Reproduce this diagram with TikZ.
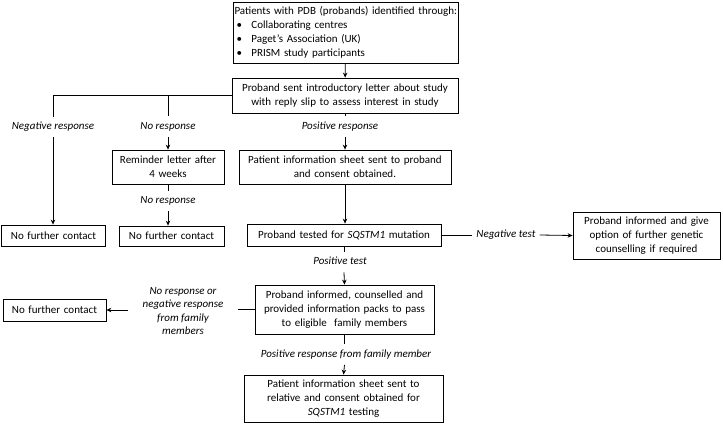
\documentclass[tikz,border=0pt]{standalone}
\usepackage{fontspec}
\setmainfont{Carlito}
\usetikzlibrary{arrows.meta}
\begin{document}
\begin{tikzpicture}[x=1pt,y=-1pt,
  every node/.style={font=\fontsize{11}{14}\selectfont},
  box/.style={draw, line width=0.8pt, align=center, inner xsep=0pt, inner ysep=1pt},
  lbl/.style={font=\fontsize{11}{13.5}\selectfont\itshape, align=center, text height=8pt, text depth=2.5pt, inner ysep=5pt, inner xsep=6pt},
  conn/.style={line width=0.8pt},
  arr/.style={line width=0.8pt, -{Stealth[length=5pt,width=4.5pt]}}]
\useasboundingbox (0,0) rectangle (723,424);

% boxes
\node[box, text width=224pt, minimum height=61pt, align=left, inner xsep=0.5pt] (a) at (345.5,32.5)
  {\hspace*{1pt}Patients with PDB (probands) identified through:\\
   \hspace*{3pt}\makebox[15pt][l]{\textbullet}Collaborating centres\\
   \hspace*{3pt}\makebox[15pt][l]{\textbullet}Paget’s Association (UK)\\
   \hspace*{3pt}\makebox[15pt][l]{\textbullet}PRISM study participants};
\node[box, text width=226pt, minimum height=35pt] (b) at (345,95.5)
  {Proband sent introductory letter about study\\ with reply slip to assess interest in study};
\node[box, text width=112pt, minimum height=34pt] (rem) at (168,167)
  {Reminder letter after\\ 4 weeks};
\node[box, text width=212pt, minimum height=34pt] (pi) at (345,167)
  {Patient information sheet sent to proband\\ and consent obtained.};
\node[box, text width=104pt, minimum height=21pt] (nfc1) at (53.5,235.5) {No further contact};
\node[box, text width=105pt, minimum height=20pt] (nfc2) at (171.5,236) {No further contact};
\node[box, text width=194pt, minimum height=22pt] (test) at (344,235)
  {Proband tested for \textit{SQSTM1} mutation};
\node[box, text width=147pt, minimum height=47pt] (neg) at (646.5,235.5)
  {Proband informed and give\\ option of further genetic\\ counselling if required};
\node[box, text width=179pt, minimum height=49pt] (c) at (344.5,309.5)
  {Proband informed, counselled and\\ provided information packs to pass\\ to eligible\ \ family members};
\node[box, text width=103pt, minimum height=22pt] (nfc3) at (54.5,310) {No further contact};
\node[box, text width=199pt, minimum height=47pt] (d) at (343.5,398.5)
  {Patient information sheet sent to\\ relative and consent obtained for\\ \textit{SQSTM1} testing};

% labels
\node[lbl] (negl) at (53,127) {Negative response};
\node[lbl] (nor1) at (168,126.5) {No response};
\node[lbl] (posr) at (340,126.5) {Positive response};
\node[lbl] (nor2) at (168,201) {No response};
\node[lbl, inner xsep=4pt] (negt) at (506,235) {Negative test};
\node[lbl] (post) at (340,262) {Positive test};
\node[lbl, text height=, text depth=, inner xsep=14pt] (fam) at (183,311)
  {No response or\\ negative response\\ from family\\ members};
\node[lbl] (posf) at (346,354.5) {Positive response from family member};

% connectors
\draw[arr] (a) -- (b);
\draw[conn] (b.west) -| (negl.north);
\draw[conn] (nor1.north) -- (nor1.north |- b.west);
\draw[arr] (negl.south) -- (negl.south |- nfc1.north);
\draw[arr] (nor1.south) -- (rem.north);
\draw[conn] (rem.south) -- (nor2.north);
\draw[arr] (nor2.south) -- (nor2.south |- nfc2.north);
\draw[conn] (b.south) -- (b.south |- posr.north);
\draw[arr] (b.south |- posr.south) -- (pi.north);
\draw[arr] (pi.south) -- (pi.south |- test.north);
\draw[conn] (test.east) -- (negt.west);
\draw[arr] (negt.east) -- (neg.west);
\draw[conn] (test.south) -- (test.south |- post.north);
\draw[arr] (test.south |- post.south) -- (c.north);
\draw[conn] (c.west) -- (c.west -| fam.east);
\draw[arr] (fam.west |- nfc3.east) -- (nfc3.east);
\draw[conn] (c.south) -- (c.south |- posf.north);
\draw[arr] (c.south |- posf.south) -- (d.north);
\end{tikzpicture}
\end{document}
